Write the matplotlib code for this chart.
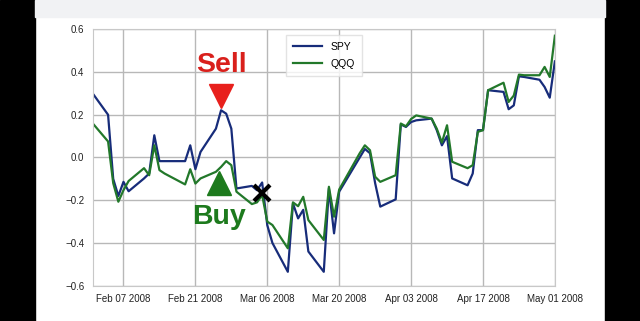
import matplotlib
matplotlib.use("Agg")
import matplotlib.pyplot as plt
import matplotlib.dates as mdates
from matplotlib.patches import Rectangle
import pandas as pd

plt.rcParams["font.family"] = ["Liberation Sans", "DejaVu Sans"]

# trading days, Feb 01 - May 01 2008
dates = pd.to_datetime([
    "2008-02-01", "2008-02-04", "2008-02-05", "2008-02-06", "2008-02-07", "2008-02-08",
    "2008-02-11", "2008-02-12", "2008-02-13", "2008-02-14", "2008-02-15",
    "2008-02-19", "2008-02-20", "2008-02-21", "2008-02-22",
    "2008-02-25", "2008-02-26", "2008-02-27", "2008-02-28", "2008-02-29",
    "2008-03-03", "2008-03-04", "2008-03-05", "2008-03-06", "2008-03-07",
    "2008-03-10", "2008-03-11", "2008-03-12", "2008-03-13", "2008-03-14",
    "2008-03-17", "2008-03-18", "2008-03-19", "2008-03-20",
    "2008-03-24", "2008-03-25", "2008-03-26", "2008-03-27", "2008-03-28",
    "2008-03-31", "2008-04-01", "2008-04-02", "2008-04-03", "2008-04-04",
    "2008-04-07", "2008-04-08", "2008-04-09", "2008-04-10", "2008-04-11",
    "2008-04-14", "2008-04-15", "2008-04-16", "2008-04-17", "2008-04-18",
    "2008-04-21", "2008-04-22", "2008-04-23", "2008-04-24", "2008-04-25",
    "2008-04-28", "2008-04-29", "2008-04-30", "2008-05-01",
])

spy = [
    0.30, 0.20, -0.10, -0.18, -0.114, -0.158,
    -0.098, -0.075, 0.104, -0.017, -0.017,
    -0.017, 0.057, -0.055, 0.026,
    0.135, 0.221, 0.205, 0.135, -0.145,
    -0.133, -0.153, -0.117, -0.317, -0.40,
    -0.535, -0.215, -0.285, -0.245, -0.44,
    -0.535, -0.145, -0.355, -0.16,
    0.0, 0.04, 0.02, -0.12, -0.23,
    -0.196, 0.155, 0.143, 0.166, 0.174,
    0.182, 0.128, 0.057, 0.10, -0.098,
    -0.13, -0.075, 0.128, 0.128, 0.315,
    0.307, 0.226, 0.244, 0.38, 0.377,
    0.364, 0.33, 0.28, 0.45,
]

qqq = [
    0.16, 0.075, -0.12, -0.207, -0.153, -0.11,
    -0.05, -0.083, 0.057, -0.059, -0.075,
    -0.126, -0.055, -0.122, -0.098,
    -0.067, -0.044, -0.017, -0.036, -0.16,
    -0.218, -0.21, -0.176, -0.30, -0.316,
    -0.425, -0.21, -0.228, -0.184, -0.293,
    -0.386, -0.137, -0.277, -0.15,
    0.02, 0.057, 0.034, -0.09, -0.114,
    -0.083, 0.159, 0.146, 0.18, 0.197,
    0.182, 0.135, 0.07, 0.151, -0.02,
    -0.05, -0.036, 0.12, 0.128, 0.315,
    0.35, 0.26, 0.29, 0.388, 0.385,
    0.385, 0.424, 0.377, 0.57,
]

# trade signals
sell_date, sell_value = pd.Timestamp("2008-02-26"), 0.29
buy_date, buy_value = pd.Timestamp("2008-02-25 14:00"), -0.12
exit_date, exit_value = pd.Timestamp("2008-03-05"), -0.167
sell_label_value, buy_label_value = 0.435, -0.28

fig = plt.figure(figsize=(6.4, 3.21), dpi=100)
# screenshot frame: black side bars, light band on top
fig.patches.append(Rectangle((0, 0), 35 / 640, 1, transform=fig.transFigure, color="black", zorder=-5))
fig.patches.append(Rectangle((605 / 640, 0), 35 / 640, 1, transform=fig.transFigure, color="black", zorder=-5))
fig.patches.append(Rectangle((35 / 640, 1 - 17 / 321), 570 / 640, 17 / 321,
                             transform=fig.transFigure, color="#f1f2f4", zorder=-5))

ax = fig.add_axes([0.1448, 0.110, 0.7222, 0.7987])
ax.plot(dates, spy, color="#172c7a", lw=1.6, label="SPY")
ax.plot(dates, qqq, color="#22782a", lw=1.6, label="QQQ")

ax.plot([sell_date], [sell_value], marker="v", ms=17, color="#e8201c", ls="none")
ax.plot([buy_date], [buy_value], marker="^", ms=17, color="#1d7a1d", ls="none")
ax.plot([exit_date], [exit_value], marker="x", ms=12, mew=3, color="black", ls="none")
ax.text(sell_date, sell_label_value, "Sell", color="#d9201c", fontsize=20.5, fontweight="bold",
        ha="center", va="center")
ax.text(buy_date, buy_label_value, "Buy", color="#1d7a1d", fontsize=20.5, fontweight="bold",
        ha="center", va="center")

ax.set_xlim(pd.Timestamp("2008-02-01"), pd.Timestamp("2008-05-01"))
ax.set_ylim(-0.6, 0.6)
ax.set_yticks([-0.6, -0.4, -0.2, 0.0, 0.2, 0.4, 0.6])
ax.yaxis.set_major_formatter(plt.FuncFormatter(lambda v, _: f"{v:.1f}".replace("-", "\u2212")))
ax.set_xticks(pd.date_range("2008-02-07", "2008-05-01", freq="14D"))
ax.xaxis.set_major_formatter(mdates.DateFormatter("%b %d %Y"))
ax.tick_params(length=0, labelsize=7, pad=6, colors="#222222")
ax.grid(True, color="#b8b8b8", lw=1)
for s in ax.spines.values():
    s.set_color("#c8c8c8")

leg = ax.legend(loc="upper center", fontsize=7.5, frameon=True, fancybox=False,
                borderpad=0.7, handlelength=2.8, labelspacing=0.7, bbox_to_anchor=(0.5, 1.0))
leg.get_frame().set_edgecolor("#dddddd")

fig.savefig("out.png", dpi=100)
